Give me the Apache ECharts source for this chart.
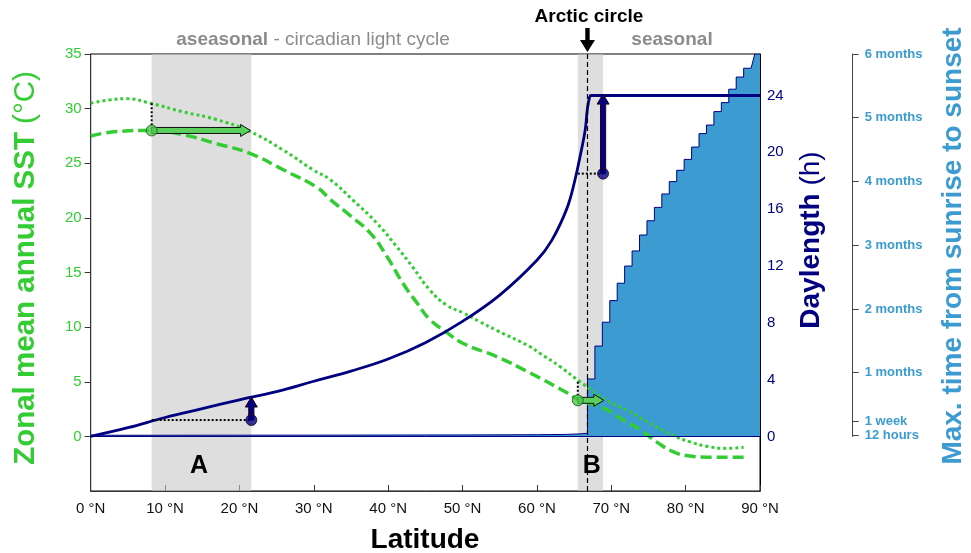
<!DOCTYPE html>
<html><head><meta charset="utf-8">
<script src="https://cdn.jsdelivr.net/npm/echarts@6/dist/echarts.min.js"></script>
<style>html,body{margin:0;padding:0;background:#fff}#c{width:971px;height:553px}</style>
</head><body><div id="c"></div>
<script>
const FONT = '"Liberation Sans", Arial, Helvetica, sans-serif';
const GREEN = '#33cc33', NAVY = '#000080', SKY = '#3c9bd0', GREYTXT = '#8c8c8c';

// ---- data ----
const latTicks = [0, 10, 20, 30, 40, 50, 60, 70, 80, 90];
const sstTicks = [0, 5, 10, 15, 20, 25, 30, 35];
const dayTicks = [0, 4, 8, 12, 16, 20, 24];
const monthTicks = [0.5, 7, 30.42, 60.83, 91.25, 121.67, 152.08, 182.5];
const monthTickLabels = ['12 hours', '1 week', '1 months', '2 months', '3 months', '4 months', '5 months', '6 months'];

// zonal mean annual SST (dashed)
const sstMeanLat = [0, 3.5, 8.0, 12.45, 16.9, 21.4, 25.9, 30.4, 32.2, 34.9, 37.6, 39.8, 42.0, 43.9, 45.6, 47.9, 50.1, 54.6, 59.1, 63.5, 65.8, 68.9, 71.6, 73.9, 76.1, 78.3, 80.6, 82.9, 88.3];
const sstMean    = [27.5, 27.9, 28.0, 27.6, 26.8, 25.9, 24.4, 22.8, 21.7, 20.2, 18.6, 16.5, 14.0, 12.2, 10.7, 9.5, 8.5, 7.3, 5.8, 4.2, 3.3, 2.6, 1.5, 0.6, -0.5, -1.4, -1.8, -1.9, -1.9];
// upper SST curve (dotted)
const sstMaxLat = [0, 2.6, 4.8, 8.0, 12.45, 16.9, 21.4, 25.9, 29.9, 32.2, 35.3, 38.5, 41.1, 43.3, 45.6, 47.9, 50.1, 52.3, 54.6, 59.1, 60.4, 63.1, 65.8, 69.4, 72.1, 75.2, 78.3, 80.6, 82.8, 85.5, 87.8];
const sstMax    = [30.5, 30.8, 30.9, 30.5, 29.7, 29.0, 27.9, 26.2, 24.4, 23.5, 21.6, 19.5, 17.4, 15.5, 13.4, 12.0, 11.3, 10.5, 9.7, 8.2, 7.6, 6.4, 5.0, 3.3, 2.4, 1.2, 0.1, -0.5, -0.9, -1.1, -1.0];
// seasonal daylength range (h)
const dayLat  = [0, 5, 10, 15, 20, 25, 30, 35, 40, 45, 50, 55, 60, 62, 64, 65, 66, 66.5, 66.8, 67.1, 67.3, 90];
const dayDiff = [0, 0.61, 1.33, 1.95, 2.57, 3.15, 3.88, 4.6, 5.45, 6.6, 8.1, 9.95, 12.4, 13.8, 16.0, 17.8, 20.2, 21.6, 23.1, 23.9, 24, 24];
// max. time from sunrise to sunset (days), steps (left edges)
const stairLat  = [0, 10, 20, 30, 40, 50, 60, 63.8, 65.8, 66.8, 67.8, 68.8, 69.8, 70.8, 71.8, 72.8, 73.8, 74.8, 75.8, 76.8, 77.8, 78.8, 79.8, 80.8, 81.8, 82.8, 83.8, 84.8, 85.8, 86.8, 87.8];
const stairDays = [0.55, 0.58, 0.6, 0.65, 0.7, 0.8, 0.95, 1.2, 1.5, 27.4, 43.1, 54.5, 64.8, 73.1, 81.3, 88.5, 96.1, 102.9, 109.3, 115.7, 121.6, 127.0, 132.2, 138.1, 144.5, 148.6, 155.0, 159.3, 165.7, 171.5, 175.7];
const stairEndLat = 88.8;
const stairTailLat = [89.3, 90];
const stairTailDays = [182.5, 182.5];

// shaded latitude bands
const bandA = [8.2, 21.6];
const bandB = [65.5, 68.9];
const arcticLat = 66.8;

// markers & arrows
const greenDots = [[8.2, 28.0], [65.5, 3.3]];
const navyDots = [[21.6, 1.15], [68.9, 18.5]];
const greenArrows = [[8.2, 28.0, 21.5, 28.0], [65.5, 3.3, 69.0, 3.3]];
const navyArrows = [[21.6, 1.15, 21.6, 2.77], [68.9, 18.5, 68.9, 24.1]];
const dotGuideSST = [[[8.2, 30.5], [8.2, 28.0]], [[65.5, 5.0], [65.5, 3.3]]];
const dotGuideDay = [[[8.2, 1.15], [21.6, 1.15]], [[65.5, 18.5], [68.9, 18.5]]];

// ---- build ----
const zip = (a, b) => a.map((v, i) => [v, b[i]]);
const stairPts = [];
stairLat.forEach((l, i) => {
  const r = i + 1 < stairLat.length ? stairLat[i + 1] : stairEndLat;
  stairPts.push([l, stairDays[i]], [r, stairDays[i]]);
});
stairTailLat.forEach((l, i) => stairPts.push([l, stairTailDays[i]]));

function arrowRender(fill, stroke, half, headLen, headHalf) {
  return function (params, api) {
    const p0 = api.coord([api.value(0), api.value(1)]);
    const p1 = api.coord([api.value(2), api.value(3)]);
    const dx = p1[0] - p0[0], dy = p1[1] - p0[1];
    const len = Math.hypot(dx, dy) || 1;
    const ux = dx / len, uy = dy / len, nx = -uy, ny = ux;
    const bx = p1[0] - ux * headLen, by = p1[1] - uy * headLen;
    const pts = [
      [p0[0] + nx * half, p0[1] + ny * half],
      [bx + nx * half, by + ny * half],
      [bx + nx * headHalf, by + ny * headHalf],
      [p1[0], p1[1]],
      [bx - nx * headHalf, by - ny * headHalf],
      [bx - nx * half, by - ny * half],
      [p0[0] - nx * half, p0[1] - ny * half]
    ];
    return { type: 'polygon', shape: { points: pts }, style: { fill: fill, stroke: stroke, lineWidth: 1 } };
  };
}

const series = [];
// staircase
series.push({
  type: 'line', xAxisIndex: 1, yAxisIndex: 2, data: stairPts, symbol: 'none', z: 1,
  lineStyle: { color: NAVY, width: 1 }, areaStyle: { color: SKY, opacity: 1 },
  markLine: { silent: true, symbol: 'none', label: { show: false }, lineStyle: { color: NAVY, width: 1, type: 'solid' }, data: [{ yAxis: 0 }] }
});
// bands
series.push({
  type: 'line', xAxisIndex: 0, yAxisIndex: 0, data: [[0, -100]], symbol: 'none', z: 2, lineStyle: { width: 0 },
  markArea: { silent: true, itemStyle: { color: 'rgba(200,200,200,0.6)' }, data: [[{ xAxis: bandA[0] }, { xAxis: bandA[1] }], [{ xAxis: bandB[0] }, { xAxis: bandB[1] }]] }
});
// curves
series.push({ type: 'line', xAxisIndex: 0, yAxisIndex: 0, data: zip(sstMaxLat, sstMax), symbol: 'none', smooth: 0.5, z: 3, lineStyle: { color: GREEN, width: 3, type: [3, 3] } });
series.push({ type: 'line', xAxisIndex: 0, yAxisIndex: 0, data: zip(sstMeanLat, sstMean), symbol: 'none', smooth: 0.5, z: 3, lineStyle: { color: GREEN, width: 3.5, type: [11, 5] } });
series.push({ type: 'line', xAxisIndex: 0, yAxisIndex: 1, data: zip(dayLat, dayDiff), symbol: 'none', smooth: 0.4, z: 3, lineStyle: { color: NAVY, width: 2.8 } });
// arctic circle line
series.push({
  type: 'line', xAxisIndex: 0, yAxisIndex: 0, data: [[0, -100]], symbol: 'none', z: 4, lineStyle: { width: 0 },
  markLine: { silent: true, symbol: 'none', label: { show: false }, lineStyle: { color: '#000', width: 1.2, type: [5, 3] }, data: [{ xAxis: arcticLat }] }
});
// dotted guides
dotGuideSST.forEach(seg => series.push({ type: 'line', xAxisIndex: 0, yAxisIndex: 0, data: seg, symbol: 'none', z: 5, lineStyle: { color: '#000', width: 2, type: [2, 2] } }));
dotGuideDay.forEach(seg => series.push({ type: 'line', xAxisIndex: 0, yAxisIndex: 1, data: seg, symbol: 'none', z: 5, lineStyle: { color: '#000', width: 2, type: [2, 2] } }));
// arrows
series.push({ type: 'custom', xAxisIndex: 0, yAxisIndex: 0, z: 6, dimensions: ['x0', 'y0', 'x1', 'y1'], encode: { x: [0, 2], y: [1, 3] }, data: greenArrows, renderItem: arrowRender('#5cd05c', '#111', 3, 10, 6) });
series.push({ type: 'custom', xAxisIndex: 0, yAxisIndex: 1, z: 6, dimensions: ['x0', 'y0', 'x1', 'y1'], encode: { x: [0, 2], y: [1, 3] }, data: navyArrows, renderItem: arrowRender(NAVY, '#2a0010', 2.6, 10, 6) });
// dots
series.push({ type: 'scatter', xAxisIndex: 0, yAxisIndex: 0, z: 7, data: greenDots, symbol: 'circle', symbolSize: 11, itemStyle: { color: '#4cc84c', borderColor: '#1a4d1a', borderWidth: 1 } });
series.push({ type: 'scatter', xAxisIndex: 0, yAxisIndex: 1, z: 7, data: navyDots, symbol: 'circle', symbolSize: 11, itemStyle: { color: NAVY, borderColor: '#2a0010', borderWidth: 1 } });

const monthLabel = v => { for (let i = 0; i < monthTicks.length; i++) if (Math.abs(monthTicks[i] - v) < 0.01) return monthTickLabels[i]; return ''; };

const option = {
  animation: false,
  backgroundColor: '#fff',
  textStyle: { fontFamily: FONT },
  grid: [
    { left: 90.7, right: 211, top: 54, bottom: 62, show: true, borderColor: '#000', borderWidth: 1, backgroundColor: 'transparent' },
    { left: 90.7, right: 211, top: 54, bottom: 116.6, show: false }
  ],
  xAxis: [
    { type: 'value', gridIndex: 0, min: 0, max: 90, interval: 10,
      axisLine: { show: true, onZero: false, lineStyle: { color: '#333', width: 1 } },
      axisTick: { show: true, inside: true, length: 6, lineStyle: { color: '#333' } },
      axisLabel: { formatter: '{value} °N', color: '#111', fontSize: 15, margin: 10, fontFamily: FONT },
      splitLine: { show: false } },
    { type: 'value', gridIndex: 1, min: 0, max: 90, show: false }
  ],
  yAxis: [
    { type: 'value', gridIndex: 0, position: 'left', min: -5, max: 35,
      axisLine: { show: true, onZero: false, lineStyle: { color: '#333' } },
      axisTick: { show: true, customValues: sstTicks, length: 6, lineStyle: { color: '#333' } },
      axisLabel: { customValues: sstTicks, color: GREEN, fontSize: 15, margin: 9, fontFamily: FONT },
      splitLine: { show: false } },
    { type: 'value', gridIndex: 0, position: 'right', min: -5 / 1.3, max: 35 / 1.3,
      axisLine: { show: true, onZero: false, lineStyle: { color: '#000' } },
      axisTick: { show: true, inside: true, customValues: dayTicks, length: 6, lineStyle: { color: '#000' } },
      axisLabel: { customValues: dayTicks, color: NAVY, fontSize: 15, margin: 7, fontFamily: FONT },
      splitLine: { show: false } },
    { type: 'value', gridIndex: 1, position: 'right', offset: 92.7, min: 0, max: 182.5,
      axisLine: { show: true, onZero: false, lineStyle: { color: '#444' } },
      axisTick: { show: true, customValues: monthTicks, length: 6, lineStyle: { color: '#444' } },
      axisLabel: { customValues: monthTicks, formatter: monthLabel, color: SKY, fontSize: 13, fontWeight: 'bold', margin: 12, fontFamily: FONT },
      splitLine: { show: false } }
  ],
  series: series
};

const chart = echarts.init(document.getElementById('c'), null, { renderer: 'canvas' });
chart.setOption(option);

const ax = chart.convertToPixel({ xAxisIndex: 0 }, arcticLat);
const rt = (x, y, rot, text, rich, fill) => ({ type: 'text', x: x, y: y, rotation: rot, z: 100,
  style: { text: text, rich: rich, fill: fill, textAlign: 'center', textVerticalAlign: 'middle', font: '28px ' + FONT } });
const bold = (size, color) => ({ fontFamily: FONT, fontWeight: 'bold', fontSize: size, fill: color, color: color });
const norm = (size, color) => ({ fontFamily: FONT, fontWeight: 'normal', fontSize: size, fill: color, color: color });

chart.setOption({
  graphic: [
    { type: 'polygon', z: 100, shape: { points: [[ax - 2.2, 28], [ax + 2.2, 28], [ax + 2.2, 40], [ax + 7.5, 40], [ax, 52], [ax - 7.5, 40], [ax - 2.2, 40]] }, style: { fill: '#000' } },
    rt(589, 17, 0, '{b|Arctic circle}', { b: bold(19, '#000') }, '#000'),
    rt(313, 40, 0, '{b|aseasonal}{n| - circadian light cycle}', { b: bold(19, GREYTXT), n: norm(19, GREYTXT) }, GREYTXT),
    rt(672, 40, 0, '{b|seasonal}', { b: bold(19, GREYTXT) }, GREYTXT),
    rt(199, 466, 0, '{b|A}', { b: bold(25, '#000') }, '#000'),
    rt(591.7, 466.5, 0, '{b|B}', { b: bold(25, '#000') }, '#000'),
    rt(425, 540, 0, '{b|Latitude}', { b: bold(28, '#000') }, '#000'),
    rt(26, 268, Math.PI / 2, '{b|Zonal mean annual SST}{n| (°C)}', { b: bold(29.5, GREEN), n: norm(29.5, GREEN) }, GREEN),
    rt(811.7, 240, Math.PI / 2, '{b|Daylength}{n| (h)}', { b: bold(28, NAVY), n: norm(28, NAVY) }, NAVY),
    rt(953, 246, Math.PI / 2, '{b|Max. time from sunrise to sunset}', { b: bold(28, SKY) }, SKY)
  ]
});
</script>
</body></html>
